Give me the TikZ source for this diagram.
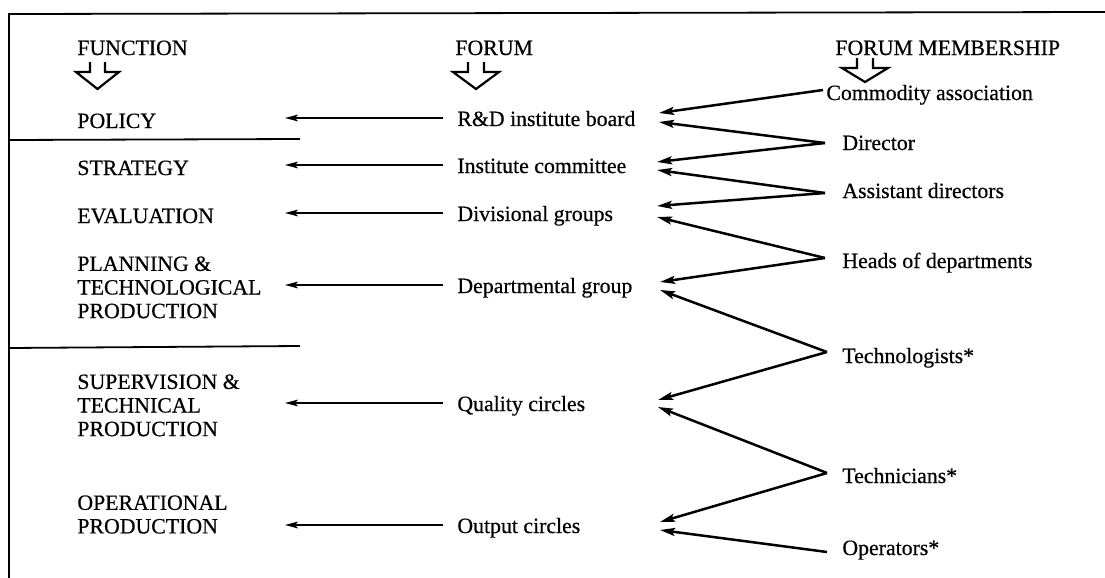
\documentclass[tikz,border=0pt]{standalone}
\usepackage{fontspec}
\setmainfont{Liberation Serif}[FakeBold=0.5]
\usetikzlibrary{arrows.meta}
\newcommand\diagfont{\fontsize{10.9}{11.8}\selectfont}
\begin{document}
\begin{tikzpicture}[x=0.5pt,y=-0.5pt,
  txt/.style={inner sep=0pt, anchor=base west, font=\diagfont},
  mtxt/.style={inner sep=0pt, anchor=north west, align=left, font=\diagfont},
  frame/.style={line width=0.9pt},
  harrow/.style={line width=0.8pt, -{Stealth[length=6.5pt,width=3.4pt,inset=1.5pt]}},
  conn/.style={line width=1.25pt, -{Stealth[length=7.5pt,width=4pt,inset=1.5pt]}},
  hollow/.style={line width=1.1pt, line join=miter}]

\useasboundingbox (0,0) rectangle (1105,578);

% frame and separators
\draw[frame] (1105,12) -- (9,14) -- (9,578);
\draw[frame] (9,140) -- (300,139);
\draw[frame] (9,348) -- (300,346);

% headers
\node[txt] (hFun) at (77,55) {FUNCTION};
\node[txt] (hFor) at (455,55) {FORUM};
\node[txt] (hMem) at (835,55) {FORUM MEMBERSHIP};

\draw[hollow] ([shift={(13,7)}]hFun.base west) -- ++(0,10) -- ++(-14,0) -- ++(21.5,17) -- ++(21.5,-17) -- ++(-14,0) -- ++(0,-10);
\draw[hollow] ([shift={(13,7)}]hFor.base west) -- ++(0,10) -- ++(-15,0) -- ++(23,17) -- ++(23,-17) -- ++(-15,0) -- ++(0,-10);
\draw[hollow] ([shift={(22,3)}]hMem.base west) -- ++(0,10) -- ++(-15,0) -- ++(23,14) -- ++(23,-14) -- ++(-15,0) -- ++(0,-10);

% functions
\node[txt] (fPol) at (77,128) {POLICY};
\node[txt] (fStr) at (77,175) {STRATEGY};
\node[txt] (fEva) at (77,223) {EVALUATION};
\node[mtxt] (fPla) at (77,256) {PLANNING \&\\TECHNOLOGICAL\\PRODUCTION};
\node[mtxt] (fSup) at (77,374) {SUPERVISION \&\\TECHNICAL\\PRODUCTION};
\node[mtxt] (fOpe) at (77,495) {OPERATIONAL\\PRODUCTION};

% forums
\node[txt] (oR) at (457,126) {R\&D institute board};
\node[txt] (oI) at (457,173) {Institute committee};
\node[txt] (oD) at (457,221) {Divisional groups};
\node[txt] (oP) at (457,293) {Departmental group};
\node[txt] (oQ) at (457,411) {Quality circles};
\node[txt] (oO) at (457,533) {Output circles};

% members
\node[txt] (mC) at (826,100) {Commodity association};
\node[txt] (mD) at (842,150) {Director};
\node[txt] (mA) at (842,198) {Assistant directors};
\node[txt] (mH) at (842,268) {Heads of departments};
\node[txt] (mT) at (842,363) {Technologists*};
\node[txt] (mN) at (842,483) {Technicians*};
\node[txt] (mO) at (842,555) {Operators*};

% forum -> function arrows
\coordinate (ftip) at (285,0);
\foreach \n in {oR,oI,oD,oP,oQ,oO}{
  \coordinate (s\n) at ([shift={(-14,-8)}]\n.base west);
  \draw[harrow] (s\n) -- (s\n -| ftip);
}

% member vertices
\coordinate (vC) at ([shift={(-3,-10)}]mC.base west);
\coordinate (vD) at ([shift={(-17,-7)}]mD.base west);
\coordinate (vA) at ([shift={(-17,-5)}]mA.base west);
\coordinate (vH) at ([shift={(-17,-10)}]mH.base west);
\coordinate (vT) at ([shift={(-15,-11)}]mT.base west);
\coordinate (vN) at ([shift={(-15,-10)}]mN.base west);
\coordinate (vO) at ([shift={(-15,-3)}]mO.base west);

% forum tips
\coordinate (tRu) at (659,113); \coordinate (tRl) at (659,122);
\coordinate (tIu) at (657,162); \coordinate (tIl) at (657,170);
\coordinate (tDu) at (657,206); \coordinate (tDl) at (657,217);
\coordinate (tPu) at (660,282); \coordinate (tPl) at (660,290);
\coordinate (tQu) at (658,400); \coordinate (tQl) at (658,407);
\coordinate (tOu) at (660,522); \coordinate (tOl) at (660,530);

\draw[conn] (vC) -- (tRu);
\draw[conn] (vD) -- (tRl);
\draw[conn] (vD) -- (tIu);
\draw[conn] (vA) -- (tIl);
\draw[conn] (vA) -- (tDu);
\draw[conn] (vH) -- (tDl);
\draw[conn] (vH) -- (tPu);
\draw[conn] (vT) -- (tPl);
\draw[conn] (vT) -- (tQu);
\draw[conn] (vN) -- (tQl);
\draw[conn] (vN) -- (tOu);
\draw[conn] (vO) -- (tOl);
\end{tikzpicture}
\end{document}
